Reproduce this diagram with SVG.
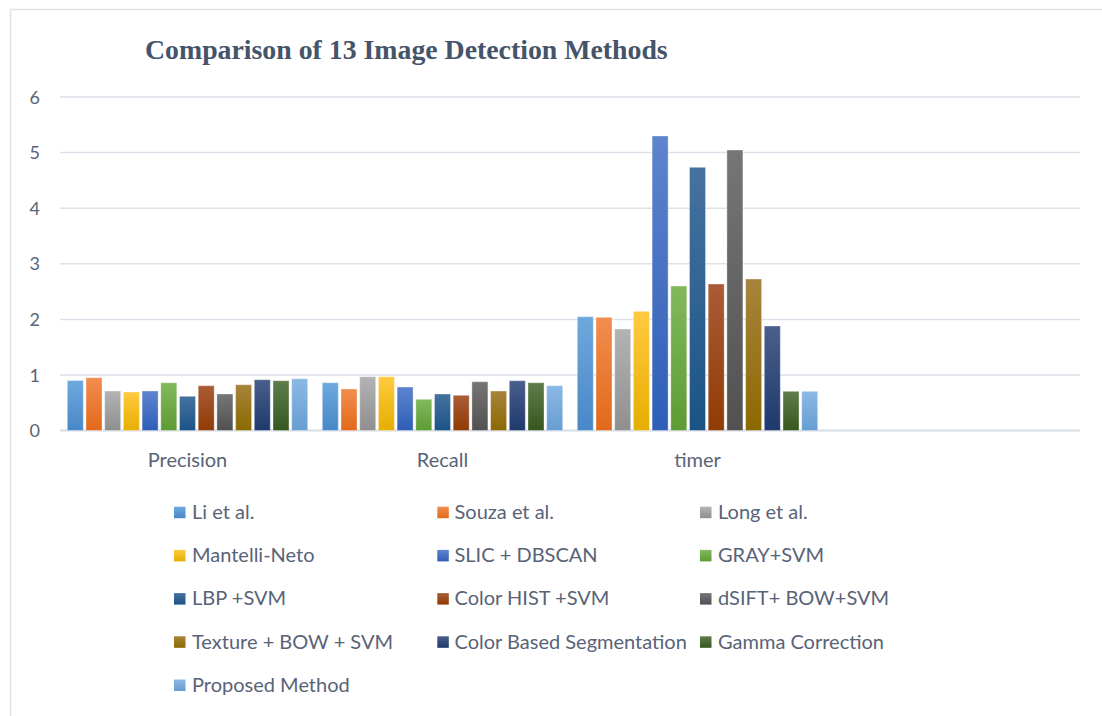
<svg xmlns="http://www.w3.org/2000/svg" width="1102" height="716" viewBox="0 0 1102 716">
  <style>
    .frame { fill: #ffffff; stroke: #dde2e9; stroke-width: 1.5; }
    .grid { stroke: #dde2ea; stroke-width: 1.5; }
    .axis { stroke: #d6dce4; stroke-width: 2; }
    .title { font-family: "Liberation Serif", "Times New Roman", serif; font-weight: bold; font-size: 27.8px; fill: #44546a; }
    .tick { font-family: Lato, "Liberation Sans", sans-serif; font-size: 18px; fill: #586377; text-anchor: end; }
    .cat { font-family: Lato, "Liberation Sans", sans-serif; font-size: 20px; fill: #586377; text-anchor: middle; }
    .leg { font-family: Lato, "Liberation Sans", sans-serif; font-size: 20px; fill: #586377; }
    .bar { stroke: #ffffff; stroke-opacity: 0.35; stroke-width: 1; }
  </style>
  <defs>
    <linearGradient id="g1" x1="0" y1="0" x2="0" y2="1"><stop offset="0" stop-color="#6ea8de"/><stop offset="1" stop-color="#4888c7"/></linearGradient>
    <linearGradient id="g2" x1="0" y1="0" x2="0" y2="1"><stop offset="0" stop-color="#f28d4f"/><stop offset="1" stop-color="#e2691a"/></linearGradient>
    <linearGradient id="g3" x1="0" y1="0" x2="0" y2="1"><stop offset="0" stop-color="#b3b3b3"/><stop offset="1" stop-color="#8f8f8f"/></linearGradient>
    <linearGradient id="g4" x1="0" y1="0" x2="0" y2="1"><stop offset="0" stop-color="#ffca40"/><stop offset="1" stop-color="#e6ae00"/></linearGradient>
    <linearGradient id="g5" x1="0" y1="0" x2="0" y2="1"><stop offset="0" stop-color="#5e84cd"/><stop offset="1" stop-color="#2e5eb7"/></linearGradient>
    <linearGradient id="g6" x1="0" y1="0" x2="0" y2="1"><stop offset="0" stop-color="#82b95d"/><stop offset="1" stop-color="#5d9b33"/></linearGradient>
    <linearGradient id="g7" x1="0" y1="0" x2="0" y2="1"><stop offset="0" stop-color="#46729f"/><stop offset="1" stop-color="#1b5387"/></linearGradient>
    <linearGradient id="g8" x1="0" y1="0" x2="0" y2="1"><stop offset="0" stop-color="#aa5c38"/><stop offset="1" stop-color="#8f3b04"/></linearGradient>
    <linearGradient id="g9" x1="0" y1="0" x2="0" y2="1"><stop offset="0" stop-color="#767676"/><stop offset="1" stop-color="#515151"/></linearGradient>
    <linearGradient id="g10" x1="0" y1="0" x2="0" y2="1"><stop offset="0" stop-color="#a7843c"/><stop offset="1" stop-color="#8b6900"/></linearGradient>
    <linearGradient id="g11" x1="0" y1="0" x2="0" y2="1"><stop offset="0" stop-color="#4a5f8b"/><stop offset="1" stop-color="#1e396d"/></linearGradient>
    <linearGradient id="g12" x1="0" y1="0" x2="0" y2="1"><stop offset="0" stop-color="#5d7d4b"/><stop offset="1" stop-color="#36581e"/></linearGradient>
    <linearGradient id="g13" x1="0" y1="0" x2="0" y2="1"><stop offset="0" stop-color="#8cb9e5"/><stop offset="1" stop-color="#679dd2"/></linearGradient>
  </defs>

  <rect width="1102" height="716" fill="#ffffff"/>
  <!-- chart area frame, running past the right and bottom edges -->
  <rect class="frame" x="10.5" y="9.5" width="1100" height="720"/>

  <text class="title" x="145" y="59">Comparison of 13 Image Detection Methods</text>

  <!-- value axis: 0 at y=430.5, 55.6 px per unit -->
  <g id="gridlines">
    <line class="grid" x1="60" y1="97" x2="1080" y2="97"/>
    <line class="grid" x1="60" y1="152.6" x2="1080" y2="152.6"/>
    <line class="grid" x1="60" y1="208.2" x2="1080" y2="208.2"/>
    <line class="grid" x1="60" y1="263.8" x2="1080" y2="263.8"/>
    <line class="grid" x1="60" y1="319.4" x2="1080" y2="319.4"/>
    <line class="grid" x1="60" y1="375" x2="1080" y2="375"/>
    <line class="axis" x1="60" y1="430.6" x2="1080" y2="430.6"/>
  </g>
  <g id="value-labels">
    <text class="tick" x="40" y="103.5">6</text>
    <text class="tick" x="40" y="159.1">5</text>
    <text class="tick" x="40" y="214.7">4</text>
    <text class="tick" x="40" y="270.3">3</text>
    <text class="tick" x="40" y="325.9">2</text>
    <text class="tick" x="40" y="381.5">1</text>
    <text class="tick" x="40" y="437.1">0</text>
  </g>

  <!-- Precision -->
  <g id="precision">
    <rect class="bar" fill="url(#g1)"  x="67.3"  y="380.5" width="16" height="50"/>
    <rect class="bar" fill="url(#g2)"  x="86.0"  y="377.7" width="16" height="52.8"/>
    <rect class="bar" fill="url(#g3)"  x="104.7" y="391"   width="16" height="39.5"/>
    <rect class="bar" fill="url(#g4)"  x="123.4" y="392"   width="16" height="38.5"/>
    <rect class="bar" fill="url(#g5)"  x="142.1" y="391"   width="16" height="39.5"/>
    <rect class="bar" fill="url(#g6)"  x="160.8" y="382.7" width="16" height="47.8"/>
    <rect class="bar" fill="url(#g7)"  x="179.5" y="396.3" width="16" height="34.2"/>
    <rect class="bar" fill="url(#g8)"  x="198.2" y="385.7" width="16" height="44.8"/>
    <rect class="bar" fill="url(#g9)"  x="216.9" y="394"   width="16" height="36.5"/>
    <rect class="bar" fill="url(#g10)" x="235.6" y="384.7" width="16" height="45.8"/>
    <rect class="bar" fill="url(#g11)" x="254.3" y="379.7" width="16" height="50.8"/>
    <rect class="bar" fill="url(#g12)" x="273.0" y="380.7" width="16" height="49.8"/>
    <rect class="bar" fill="url(#g13)" x="291.7" y="378.7" width="16" height="51.8"/>
  </g>

  <!-- Recall -->
  <g id="recall">
    <rect class="bar" fill="url(#g1)"  x="322.3" y="382.7" width="16" height="47.8"/>
    <rect class="bar" fill="url(#g2)"  x="341.0" y="389"   width="16" height="41.5"/>
    <rect class="bar" fill="url(#g3)"  x="359.7" y="376.7" width="16" height="53.8"/>
    <rect class="bar" fill="url(#g4)"  x="378.4" y="376.7" width="16" height="53.8"/>
    <rect class="bar" fill="url(#g5)"  x="397.1" y="387"   width="16" height="43.5"/>
    <rect class="bar" fill="url(#g6)"  x="415.8" y="399.3" width="16" height="31.2"/>
    <rect class="bar" fill="url(#g7)"  x="434.5" y="394"   width="16" height="36.5"/>
    <rect class="bar" fill="url(#g8)"  x="453.2" y="395.3" width="16" height="35.2"/>
    <rect class="bar" fill="url(#g9)"  x="471.9" y="381.7" width="16" height="48.8"/>
    <rect class="bar" fill="url(#g10)" x="490.6" y="391"   width="16" height="39.5"/>
    <rect class="bar" fill="url(#g11)" x="509.3" y="380.7" width="16" height="49.8"/>
    <rect class="bar" fill="url(#g12)" x="528.0" y="382.7" width="16" height="47.8"/>
    <rect class="bar" fill="url(#g13)" x="546.7" y="385.7" width="16" height="44.8"/>
  </g>

  <!-- timer -->
  <g id="timer">
    <rect class="bar" fill="url(#g1)"  x="577.3" y="316.7" width="16" height="113.8"/>
    <rect class="bar" fill="url(#g2)"  x="596.0" y="317.3" width="16" height="113.2"/>
    <rect class="bar" fill="url(#g3)"  x="614.7" y="329"   width="16" height="101.5"/>
    <rect class="bar" fill="url(#g4)"  x="633.4" y="311.3" width="16" height="119.2"/>
    <rect class="bar" fill="url(#g5)"  x="652.1" y="136"   width="16" height="294.5"/>
    <rect class="bar" fill="url(#g6)"  x="670.8" y="286"   width="16" height="144.5"/>
    <rect class="bar" fill="url(#g7)"  x="689.5" y="167.3" width="16" height="263.2"/>
    <rect class="bar" fill="url(#g8)"  x="708.2" y="284"   width="16" height="146.5"/>
    <rect class="bar" fill="url(#g9)"  x="726.9" y="150"   width="16" height="280.5"/>
    <rect class="bar" fill="url(#g10)" x="745.6" y="279"   width="16" height="151.5"/>
    <rect class="bar" fill="url(#g11)" x="764.3" y="326"   width="16" height="104.5"/>
    <rect class="bar" fill="url(#g12)" x="783.0" y="391.3" width="16" height="39.2"/>
    <rect class="bar" fill="url(#g13)" x="801.7" y="391.3" width="16" height="39.2"/>
  </g>

  <g id="category-labels">
    <text class="cat" x="187.5" y="466.5">Precision</text>
    <text class="cat" x="442.5" y="466.5">Recall</text>
    <text class="cat" x="697.5" y="466.5">timer</text>
  </g>

  <!-- legend: three columns, rows 43.2 px apart -->
  <g id="legend">
    <g id="leg-li"><rect fill="url(#g1)" x="174" y="506.7" width="11.5" height="11.5"/><text class="leg" x="192" y="519">Li et al.</text></g>
    <g id="leg-souza"><rect fill="url(#g2)" x="437.3" y="506.7" width="11.5" height="11.5"/><text class="leg" x="454.5" y="519">Souza et al.</text></g>
    <g id="leg-long"><rect fill="url(#g3)" x="700" y="506.7" width="11.5" height="11.5"/><text class="leg" x="718" y="519">Long et al.</text></g>

    <g id="leg-mantelli"><rect fill="url(#g4)" x="174" y="549.9" width="11.5" height="11.5"/><text class="leg" x="192" y="562.2">Mantelli-Neto</text></g>
    <g id="leg-slic"><rect fill="url(#g5)" x="437.3" y="549.9" width="11.5" height="11.5"/><text class="leg" x="454.5" y="562.2">SLIC + DBSCAN</text></g>
    <g id="leg-gray"><rect fill="url(#g6)" x="700" y="549.9" width="11.5" height="11.5"/><text class="leg" x="718" y="562.2">GRAY+SVM</text></g>

    <g id="leg-lbp"><rect fill="url(#g7)" x="174" y="593.1" width="11.5" height="11.5"/><text class="leg" x="192" y="605.4">LBP +SVM</text></g>
    <g id="leg-hist"><rect fill="url(#g8)" x="437.3" y="593.1" width="11.5" height="11.5"/><text class="leg" x="454.5" y="605.4">Color HIST +SVM</text></g>
    <g id="leg-dsift"><rect fill="url(#g9)" x="700" y="593.1" width="11.5" height="11.5"/><text class="leg" x="718" y="605.4">dSIFT+ BOW+SVM</text></g>

    <g id="leg-texture"><rect fill="url(#g10)" x="174" y="636.3" width="11.5" height="11.5"/><text class="leg" x="192" y="648.6">Texture + BOW + SVM</text></g>
    <g id="leg-segmentation"><rect fill="url(#g11)" x="437.3" y="636.3" width="11.5" height="11.5"/><text class="leg" x="454.5" y="648.6">Color Based Segmentation</text></g>
    <g id="leg-gamma"><rect fill="url(#g12)" x="700" y="636.3" width="11.5" height="11.5"/><text class="leg" x="718" y="648.6">Gamma Correction</text></g>

    <g id="leg-proposed"><rect fill="url(#g13)" x="174" y="679.5" width="11.5" height="11.5"/><text class="leg" x="192" y="691.8">Proposed Method</text></g>
  </g>
</svg>
